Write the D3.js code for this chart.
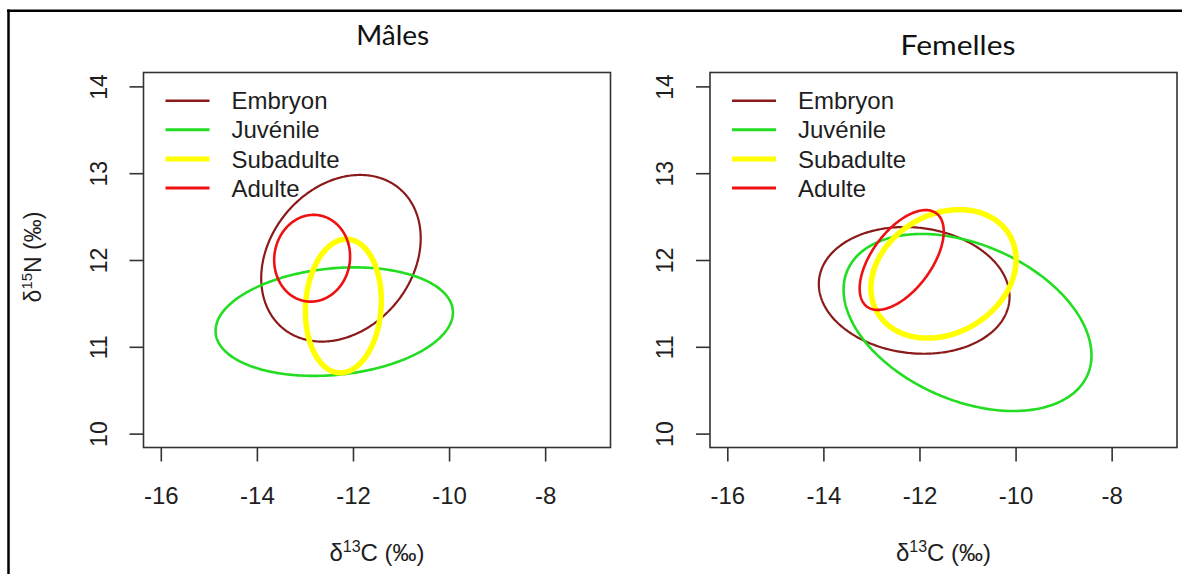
<!DOCTYPE html>
<html>
<head>
<meta charset="utf-8">
<script src="https://cdn.jsdelivr.net/npm/d3@7"></script>
<style>
  html, body { margin: 0; padding: 0; background: #fff; }
  svg { display: block; }
</style>
</head>
<body>
<div id="chart"></div>
<script>
// ---------- data ----------
const stages = ["Embryon", "Juvénile", "Subadulte", "Adulte"];
const panelTitles = ["Mâles", "Femelles"];
const xTicks = [-16, -14, -12, -10, -8];
const yTicks = [10, 11, 12, 13, 14];
const xLimits = [-16, -7];
const yLimits = [10, 14];

// ellipse centres, standard deviations and correlations (δ13C, δ15N)
const malesCx  = [-12.25, -12.39, -12.20, -12.85];
const malesCy  = [12.02, 11.29, 11.47, 12.02];
const malesSx  = [1.66, 2.47, 0.79, 0.79];
const malesSy  = [0.96, 0.625, 0.77, 0.50];
const malesRho = [0.24, 0.17, 0.08, 0.04];

const femalesCx  = [-12.11, -11.00, -11.50, -12.37];
const femalesCy  = [11.65, 11.28, 11.84, 12.00];
const femalesSx  = [1.985, 2.58, 1.51, 0.875];
const femalesSy  = [0.73, 1.02, 0.74, 0.575];
const femalesRho = [-0.10, -0.37, 0.22, 0.57];

// ---------- styles ----------
const colors = ["#8b1a1a", "#22dd22", "#ffff00", "#ee1111"];
const widths = [2.2, 2.6, 5.5, 2.6];
const legendWidths = [2.4, 3, 5, 3];

const W = 1182, H = 574;
const svg = d3.select("#chart").append("svg").attr("width", W).attr("height", H);

// outer frame (top and left edges)
svg.append("line").attr("x1", 7).attr("x2", W).attr("y1", 10.8).attr("y2", 10.8)
  .attr("stroke", "#000").attr("stroke-width", 2.5);
svg.append("line").attr("x1", 8.5).attr("x2", 8.5).attr("y1", 9.5).attr("y2", H)
  .attr("stroke", "#000").attr("stroke-width", 2.5);

const panels = [
  { title: panelTitles[0], left: 143.5, right: 610.5, titleX: 392.7, titleY: 44.5, titleW: 73,
    cx: malesCx, cy: malesCy, sx: malesSx, sy: malesSy, rho: malesRho, ylab: true },
  { title: panelTitles[1], left: 710, right: 1177, titleX: 958, titleY: 54.5, titleW: 115,
    cx: femalesCx, cy: femalesCy, sx: femalesSx, sy: femalesSy, rho: femalesRho, ylab: false }
];
const plotTop = 72.5, plotBottom = 447.5;
const pad = v => { const d = (v[1] - v[0]) * 0.04; return [v[0] - d, v[1] + d]; };

const axisColor = "#333";
const textColor = "#1e1e1e";
const tickFont = "'Liberation Sans', Arial, sans-serif";

panels.forEach(p => {
  const x = d3.scaleLinear().domain(pad(xLimits)).range([p.left, p.right]);
  const y = d3.scaleLinear().domain(pad(yLimits)).range([plotBottom, plotTop]);
  const g = svg.append("g");

  // title
  g.append("text").attr("x", p.titleX).attr("y", p.titleY)
    .attr("text-anchor", "middle")
    .attr("font-family", "Lato, 'Open Sans', sans-serif")
    .attr("font-size", 26).attr("fill", "#111")
    .attr("textLength", p.titleW).attr("lengthAdjust", "spacingAndGlyphs")
    .text(p.title);

  // ellipses
  const ts = d3.range(0, 360, 1).map(d => d * Math.PI / 180);
  const line = d3.line().x(d => x(d[0])).y(d => y(d[1])).curve(d3.curveLinearClosed);
  stages.forEach((s, i) => {
    const r = p.rho[i], k = Math.sqrt(1 - r * r);
    const pts = ts.map(t => [p.cx[i] + p.sx[i] * Math.cos(t),
                             p.cy[i] + p.sy[i] * (r * Math.cos(t) + k * Math.sin(t))]);
    g.append("path").attr("d", line(pts)).attr("fill", "none")
      .attr("stroke", colors[i]).attr("stroke-width", widths[i]);
  });

  // box
  g.append("rect").attr("x", p.left).attr("y", plotTop)
    .attr("width", p.right - p.left).attr("height", plotBottom - plotTop)
    .attr("fill", "none").attr("stroke", axisColor).attr("stroke-width", 1.6);

  // x axis
  const xa = g.append("g").attr("transform", `translate(0,${plotBottom})`)
    .call(d3.axisBottom(x).tickValues(xTicks).tickSize(14).tickPadding(25)
      .tickFormat(d => d < 0 ? "-" + Math.abs(d) : d));
  xa.select(".domain").remove();
  xa.selectAll(".tick line").attr("stroke", axisColor).attr("stroke-width", 1.6);
  xa.selectAll(".tick text").attr("font-family", tickFont).attr("font-size", 24)
    .attr("fill", textColor);

  // y axis
  const ya = g.append("g").attr("transform", `translate(${p.left},0)`)
    .call(d3.axisLeft(y).tickValues(yTicks).tickSize(14).tickFormat(""));
  ya.select(".domain").remove();
  ya.selectAll(".tick line").attr("stroke", axisColor).attr("stroke-width", 1.6);
  ya.selectAll(".tick").append("text")
    .attr("transform", "translate(-45,0) rotate(-90)")
    .attr("text-anchor", "middle").attr("dy", "0.36em")
    .attr("font-family", tickFont).attr("font-size", 23).attr("fill", textColor)
    .text(d => d);

  // x axis title
  const xt = g.append("text").attr("x", (p.left + p.right) / 2).attr("y", 561)
    .attr("text-anchor", "middle").attr("font-family", tickFont)
    .attr("font-size", 24).attr("fill", textColor);
  xt.append("tspan").text("δ");
  xt.append("tspan").attr("font-size", 16).attr("dy", -9).text("13");
  xt.append("tspan").attr("dy", 9).text("C (‰)");

  if (p.ylab) {
    const yt = g.append("text").attr("transform", "translate(41,257) rotate(-90)")
      .attr("text-anchor", "middle").attr("font-family", tickFont)
      .attr("font-size", 23).attr("fill", textColor);
    yt.append("tspan").text("δ");
    yt.append("tspan").attr("font-size", 15).attr("dy", -9).text("15");
    yt.append("tspan").attr("dy", 9).text("N (‰)");
  }

  // legend
  const lx = p.left + 22, ly0 = 100.7, step = 29.1;
  const lg = g.append("g");
  stages.forEach((s, i) => {
    lg.append("line").attr("x1", lx).attr("x2", lx + 44)
      .attr("y1", ly0 + i * step).attr("y2", ly0 + i * step)
      .attr("stroke", colors[i]).attr("stroke-width", legendWidths[i]);
    lg.append("text").attr("x", lx + 66).attr("y", ly0 + i * step).attr("dy", "0.36em")
      .attr("font-family", tickFont).attr("font-size", 24).attr("fill", textColor)
      .text(s);
  });
});
</script>
</body>
</html>
